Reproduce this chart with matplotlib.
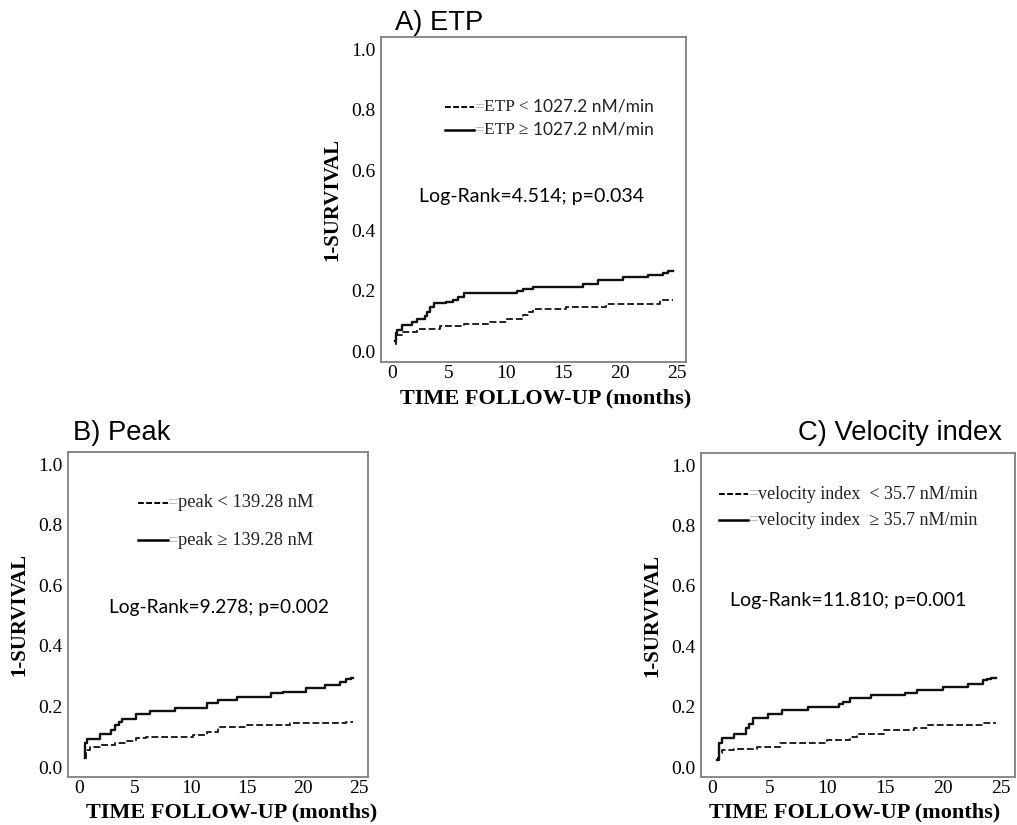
import numpy as np
import matplotlib
matplotlib.use("Agg")
import matplotlib.pyplot as plt
from matplotlib.offsetbox import HPacker, TextArea, DrawingArea, AnnotationBbox
from matplotlib.lines import Line2D

# cumulative incidence (1 - survival), step points (time in months)
etp_low_t = [0.3, 0.35, 1.0, 2.2, 4.2, 6.3, 8.6, 10.1, 11.5, 12.0, 12.4, 15.3, 18.8, 23.5, 24.7]
etp_low_y = [0.025, 0.053, 0.064, 0.073, 0.083, 0.090, 0.097, 0.108, 0.120, 0.130, 0.140, 0.147, 0.156, 0.169, 0.169]
etp_high_t = [0.3, 0.35, 0.5, 0.9, 1.8, 2.2, 2.9, 3.1, 3.4, 3.7, 4.8, 5.4, 5.8, 6.3, 11.0, 11.5, 12.4,
              16.8, 18.1, 20.3, 22.5, 23.8, 24.2, 24.7]
etp_high_y = [0.035, 0.060, 0.070, 0.086, 0.095, 0.106, 0.115, 0.130, 0.145, 0.158, 0.164, 0.170, 0.178,
              0.191, 0.200, 0.205, 0.211, 0.224, 0.235, 0.245, 0.252, 0.260, 0.266, 0.266]

peak_low_t = [0.5, 0.6, 1.0, 1.9, 3.2, 4.3, 5.1, 6.0, 10.2, 11.4, 12.4, 15.0, 18.8, 23.8, 24.5]
peak_low_y = [0.029, 0.056, 0.065, 0.073, 0.078, 0.086, 0.095, 0.100, 0.106, 0.117, 0.133, 0.139, 0.144, 0.150, 0.150]
peak_high_t = [0.5, 0.55, 0.75, 1.9, 2.9, 3.2, 3.6, 3.8, 5.1, 6.3, 8.6, 11.4, 12.4, 14.1, 17.1, 18.2,
               20.3, 22.0, 23.3, 23.8, 24.3, 24.5]
peak_high_y = [0.029, 0.078, 0.091, 0.108, 0.122, 0.139, 0.150, 0.160, 0.175, 0.186, 0.196, 0.210, 0.221,
               0.232, 0.243, 0.249, 0.260, 0.270, 0.280, 0.290, 0.294, 0.294]

vel_low_t = [0.5, 0.6, 0.9, 1.9, 3.9, 5.9, 10.0, 12.0, 12.6, 14.9, 17.5, 18.7, 23.5, 24.6]
vel_low_y = [0.029, 0.045, 0.056, 0.059, 0.067, 0.078, 0.089, 0.100, 0.111, 0.122, 0.128, 0.139, 0.146, 0.146]
vel_high_t = [0.5, 0.6, 0.9, 1.9, 3.0, 3.2, 3.6, 4.9, 6.1, 8.3, 11.0, 11.4, 12.0, 13.8, 16.7, 17.8,
              20.0, 22.2, 23.5, 23.8, 24.2, 24.6]
vel_high_y = [0.023, 0.078, 0.095, 0.111, 0.128, 0.144, 0.164, 0.177, 0.188, 0.199, 0.210, 0.216, 0.227,
              0.238, 0.246, 0.254, 0.265, 0.276, 0.287, 0.292, 0.296, 0.296]

yticks = [0.0, 0.2, 0.4, 0.6, 0.8, 1.0]
xticks = [0, 5, 10, 15, 20, 25]

W, H = 1017, 825
fig = plt.figure(figsize=(W / 100, H / 100), dpi=100)

SERIF = "Liberation Serif"
SANS = "Liberation Sans"
CAL = "Lato"


def px_axes(l, t, r, b):
    return fig.add_axes([l / W, 1 - b / H, (r - l) / W, (b - t) / H])


def setup(ax, xlim, ylim, xlab_x=0.5, xlab_y=-0.11):
    ax.set_xlim(*xlim)
    ax.set_ylim(*ylim)
    ax.set_xticks(xticks)
    ax.set_yticks(yticks)
    ax.set_yticklabels([f"{v:.1f}" for v in yticks])
    ax.tick_params(length=0, labelsize=14, pad=4)
    ax.tick_params(axis="x", pad=2.5)
    for lab in ax.get_xticklabels() + ax.get_yticklabels():
        lab.set_fontfamily(SERIF)
    for s in ax.spines.values():
        s.set_color("#808080")
        s.set_linewidth(1.3)
    ax.set_xlabel("TIME FOLLOW-UP (months)", fontfamily=SERIF, fontweight="bold", fontsize=16)
    ax.xaxis.set_label_coords(xlab_x, xlab_y)
    ax.set_ylabel("1-SURVIVAL", fontfamily=SERIF, fontweight="bold", fontsize=15, labelpad=6)


def curves(ax, lt, ly, ht, hy):
    ax.plot(lt, ly, drawstyle="steps-post", color="#222222", lw=1.4, ls=(0, (3.5, 1.5)))
    ax.plot(ht, hy, drawstyle="steps-post", color="#111111", lw=1.7)


def legend_row(ax, x, y, ls, parts, fs=12.5):
    da = DrawingArea(21, 8, 0, 0)
    da.add_artist(Line2D([0, 21], [4, 4], color="k", lw=1.4 if ls != "-" else 1.8, ls=ls))
    kids = [da, TextArea("=", textprops=dict(color="#aaaaaa", fontsize=fs, fontfamily=SERIF))]
    for s, fam in parts:
        kids.append(TextArea(s, textprops=dict(color="#222222", fontsize=fs, fontfamily=fam)))
    box = HPacker(children=kids, align="center", pad=0, sep=0)
    ax.add_artist(AnnotationBbox(box, (x, y), xycoords="data", box_alignment=(0, 0.5), frameon=False))


# A) ETP
axA = px_axes(381, 37, 686, 362)
setup(axA, ((381 - 391.7) / 11.4, (686 - 391.7) / 11.4), (-0.036, 1.041),
      xlab_x=(546 - 381) / 305, xlab_y=-(388 - 362) / 325)
curves(axA, etp_low_t, etp_low_y, etp_high_t, etp_high_y)
legend_row(axA, 4.7, 0.81, (0, (3, 1.2)), [("ETP < ", SERIF), ("1027.2 nM/min", CAL)])
legend_row(axA, 4.7, 0.733, "-", [("ETP \u2265 ", SERIF), ("1027.2 nM/min", CAL)])
axA.text(12.3, 0.514, "Log-Rank=4.514; p=0.034", fontfamily=CAL, fontsize=14, ha="center", va="center")
fig.text(395 / W, 1 - 23 / H, "A) ETP", fontfamily=SANS, fontsize=19.7, va="center", ha="left")

# B) Peak
axB = px_axes(68, 452, 368, 777)
setup(axB, ((68 - 79) / 11.2, (368 - 79) / 11.2), (-0.033, 1.04),
      xlab_x=(232 - 68) / 300, xlab_y=-(802 - 777) / 325)
curves(axB, peak_low_t, peak_low_y, peak_high_t, peak_high_y)
legend_row(axB, 5.3, 0.872, (0, (3, 1.2)), [("peak < 139.28 nM", SERIF)], fs=13.2)
legend_row(axB, 5.3, 0.749, "-", [("peak \u2265 139.28 nM", SERIF)], fs=13.2)
axB.text(12.5, 0.525, "Log-Rank=9.278; p=0.002", fontfamily=CAL, fontsize=13.8, ha="center", va="center")
fig.text(73 / W, 1 - 433 / H, "B) Peak", fontfamily=SANS, fontsize=19.7, va="center", ha="left")

# C) Velocity index
axC = px_axes(701, 453, 1015, 777)
setup(axC, ((701 - 711.7) / 11.55, (1015 - 711.7) / 11.55), (-0.033, 1.04),
      xlab_x=(855 - 701) / 314, xlab_y=-(802 - 777) / 324)
curves(axC, vel_low_t, vel_low_y, vel_high_t, vel_high_y)
legend_row(axC, 0.65, 0.904, (0, (3, 1.2)), [("velocity index  < 35.7 nM/min", SERIF)], fs=13)
legend_row(axC, 0.65, 0.818, "-", [("velocity index  \u2265 35.7 nM/min", SERIF)], fs=13)
axC.text(1.55, 0.551, "Log-Rank=11.810; p=0.001", fontfamily=CAL, fontsize=14, ha="left", va="center")
fig.text(1002 / W, 1 - 433 / H, "C) Velocity index", fontfamily=SANS, fontsize=19.7, va="center", ha="right")

fig.savefig("out.png", dpi=100)
